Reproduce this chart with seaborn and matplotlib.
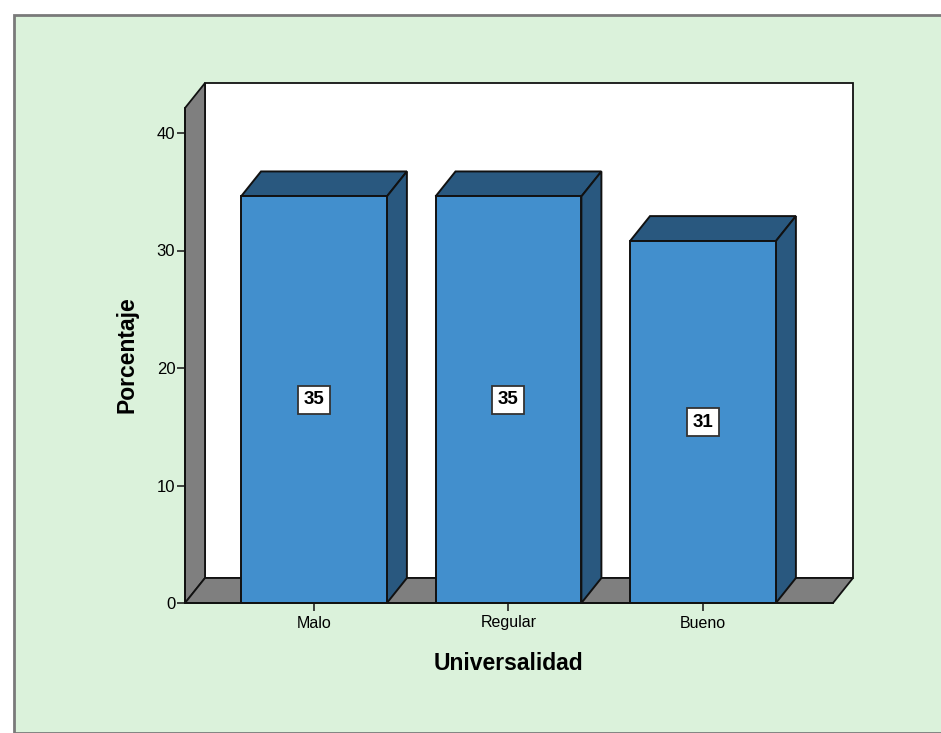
import matplotlib
matplotlib.use("Agg")
import matplotlib.pyplot as plt
from matplotlib.patches import Polygon, Rectangle
import seaborn as sns
import pandas as pd

# Data
categories = ["Malo", "Regular", "Bueno"]
percentages = [34.6, 34.6, 30.8]
y_ticks = [0, 10, 20, 30, 40]

sns.set_theme(style="white")
plt.rcParams["font.family"] = ["Liberation Sans", "DejaVu Sans"]
plt.rcParams.update({"text.color": "black", "axes.labelcolor": "black",
                     "xtick.color": "black", "ytick.color": "black"})

FRONT = "#428FCD"
DARK = "#29587F"
GRAY = "#7F7F7F"
EDGE = "#111111"
BG = "#DBF2DB"

fig = plt.figure(figsize=(9.41, 7.33), dpi=100)
fig.patch.set_facecolor("white")

# Framed green panel behind the chart
W, H = 941, 733
panel = Rectangle((14 / W, 0), 1, (H - 15) / H, transform=fig.transFigure,
                  facecolor=BG, edgecolor="#7A7A7A", linewidth=2.0, zorder=-5)
fig.add_artist(panel)

# Axes span front floor corner to back wall top
left_px, right_px, bottom_px, top_px = 185, 853, 603, 83
ax = fig.add_axes([left_px / W, (H - bottom_px) / H,
                   (right_px - left_px) / W, (bottom_px - top_px) / H])
ax.set_zorder(2)
ax.set_facecolor("none")

px_per_x = 194.5
px_per_y = 11.75
x0 = -0.663
x1 = x0 + (right_px - left_px) / px_per_x
ytop = (bottom_px - top_px) / px_per_y
dx = 20 / px_per_x
dy = 25 / px_per_y

# Back wall, side wall and floor
ax.add_patch(Rectangle((x0 + dx, dy), x1 - x0 - dx, ytop - dy, facecolor="white",
                       edgecolor=EDGE, linewidth=1.3, zorder=1, clip_on=False))
ax.add_patch(Polygon([(x0, 0), (x0, ytop - dy), (x0 + dx, ytop), (x0 + dx, dy)],
                     closed=True, facecolor=GRAY, edgecolor=EDGE, linewidth=1.3,
                     zorder=2, clip_on=False))
ax.add_patch(Polygon([(x0, 0), (x1 - dx, 0), (x1, dy), (x0 + dx, dy)],
                     closed=True, facecolor=GRAY, edgecolor=EDGE, linewidth=1.3,
                     zorder=2, clip_on=False))

# Front faces of the bars
df = pd.DataFrame({"Universalidad": categories, "Porcentaje": percentages})
width = 0.75
sns.barplot(data=df, x="Universalidad", y="Porcentaje", color=FRONT, width=width,
            saturation=1, edgecolor=EDGE, linewidth=1.4, ax=ax, zorder=4)
ax.set_xlim(x0, x1)
ax.set_ylim(0, ytop)

# Top and side faces plus value labels
hw = width / 2
for i, v in enumerate(percentages):
    top = [(i - hw, v), (i + hw, v), (i + hw + dx, v + dy), (i - hw + dx, v + dy)]
    side = [(i + hw, 0), (i + hw, v), (i + hw + dx, v + dy), (i + hw + dx, dy)]
    ax.add_patch(Polygon(top, closed=True, facecolor=DARK, edgecolor=EDGE,
                         linewidth=1.4, zorder=3))
    ax.add_patch(Polygon(side, closed=True, facecolor=DARK, edgecolor=EDGE,
                         linewidth=1.4, zorder=3))
    ax.text(i, v / 2, f"{v:.0f}", ha="center", va="center", fontsize=13.5,
            fontweight="bold", color="black", zorder=6,
            bbox=dict(boxstyle="square,pad=0.3", facecolor="white",
                      edgecolor="#333333", linewidth=1.3))

# Axes lines along the front plane
for s in ["top", "right"]:
    ax.spines[s].set_visible(False)
ax.spines["left"].set_bounds(0, ytop - dy)
ax.spines["bottom"].set_bounds(x0, x1 - dx)
for s in ["left", "bottom"]:
    ax.spines[s].set_color(EDGE)
    ax.spines[s].set_linewidth(1.3)
    ax.spines[s].set_zorder(5)

ax.set_yticks(y_ticks)
ax.set_xticks(range(len(categories)))
ax.set_xticklabels(categories)
ax.tick_params(axis="y", left=True, direction="out", length=6, width=1.1,
               color=EDGE, labelsize=12, pad=1)
ax.tick_params(axis="x", bottom=True, direction="out", length=6, width=1.1,
               color=EDGE, labelsize=11.5, pad=3)

ax.set_xlabel("Universalidad", fontsize=16.5, fontweight="bold")
ax.set_ylabel("Porcentaje", fontsize=16.5, fontweight="bold")
ax.xaxis.set_label_coords((508 - left_px) / (right_px - left_px),
                          -(652 - bottom_px) / (bottom_px - top_px))
ax.yaxis.set_label_coords(-(left_px - 138) / (right_px - left_px),
                          (bottom_px - 355) / (bottom_px - top_px))

fig.savefig("out.png", dpi=100)
